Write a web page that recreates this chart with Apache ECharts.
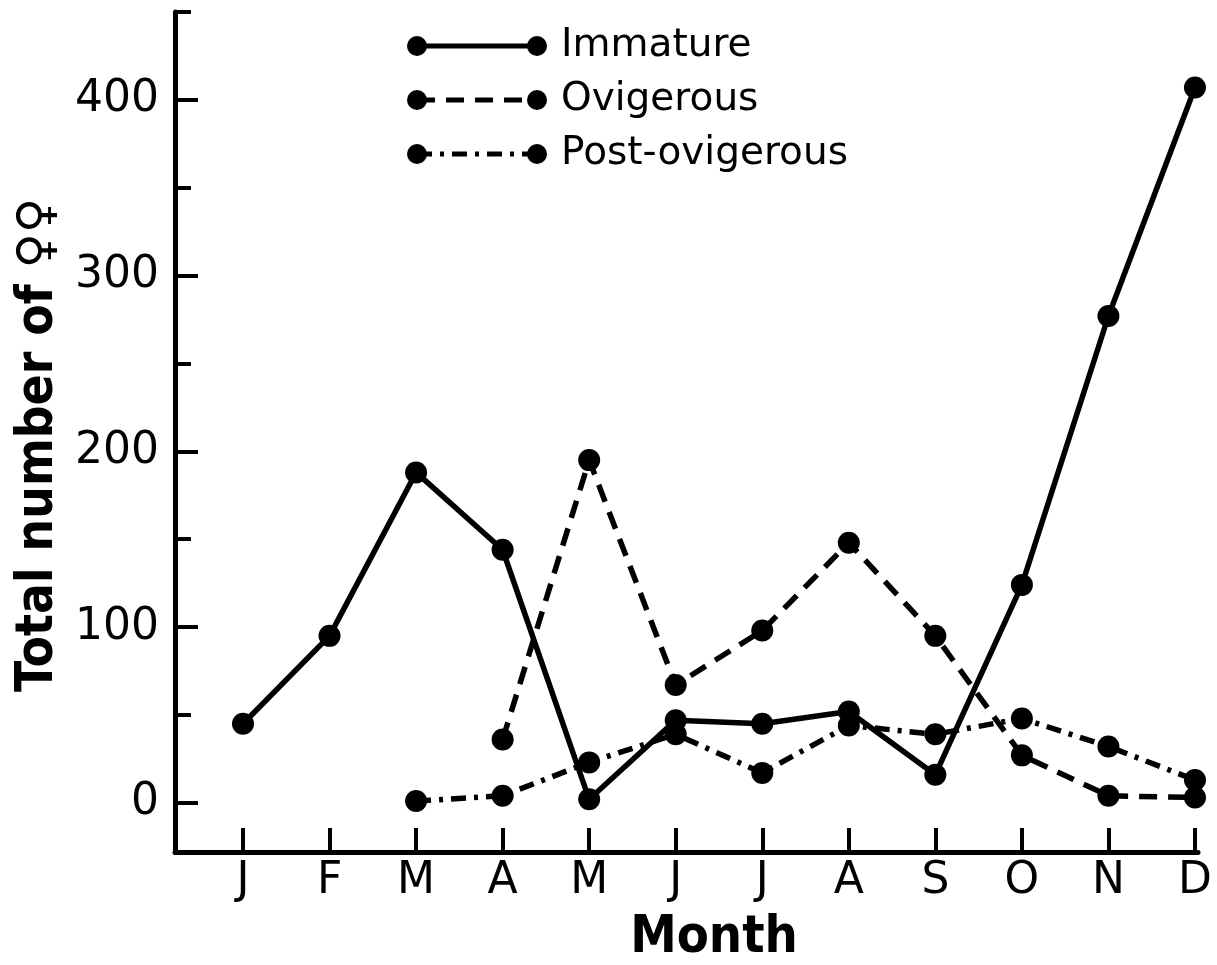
<!DOCTYPE html>
<html>
<head>
<meta charset="utf-8">
<script src="https://cdn.jsdelivr.net/npm/echarts@6/dist/echarts.min.js"></script>
<style>
  html, body { margin: 0; padding: 0; background: #ffffff; }
  #chart { width: 1217px; height: 965px; }
</style>
</head>
<body>
<div id="chart"></div>
<script>
// Monthly counts of females by reproductive stage
const monthLabels = ['J', 'F', 'M', 'A', 'M', 'J', 'J', 'A', 'S', 'O', 'N', 'D'];
const immature = [45, 95, 188, 144, 2, 47, 45, 52, 16, 124, 277, 407];
const ovigerous = [null, null, null, 36, 195, 67, 98, 148, 95, 27, 4, 3];
const postOvigerous = [null, null, 1, 4, 23, 39, 17, 44, 39, 48, 32, 13];
const seriesNames = ['Immature', 'Ovigerous', 'Post-ovigerous'];
const yMajorTicks = [0, 100, 200, 300, 400];
const yMinorTicks = [50, 150, 250, 350, 450];
const monthPositions = monthLabels.map((_, i) => i + 1);

const INK = '#000000';
const labelFont = '"DejaVu Sans", "Liberation Sans", sans-serif';
const titleFont = '"Liberation Sans Narrow", "DejaVu Sans Condensed", "Liberation Sans", sans-serif';
const dashStyles = ['solid', [18, 11], [15, 8, 4, 8]];

function toPoints(values) {
  return values
    .map((v, i) => (v === null ? null : [i + 1, v]))
    .filter(p => p !== null);
}

const seriesValues = [immature, ovigerous, postOvigerous];

const series = seriesValues.map((vals, k) => ({
  name: seriesNames[k],
  type: 'line',
  data: toPoints(vals),
  symbol: 'circle',
  symbolSize: 22,
  showAllSymbol: true,
  itemStyle: { color: INK },
  lineStyle: { color: INK, width: 5.5, type: dashStyles[k] },
  emphasis: { disabled: true },
  animation: false,
  z: 3 - k
}));

// Key in the upper area: a short line with a dot at each end, then the name
const keyRows = [46, 100, 154];
const keyX0 = 417, keyX1 = 537, keyTextX = 561;
const keyGraphics = [];
seriesNames.forEach((name, k) => {
  const y = keyRows[k];
  keyGraphics.push({
    type: 'line',
    shape: { x1: keyX0, y1: y, x2: keyX1, y2: y },
    style: { stroke: INK, lineWidth: 5, lineDash: k === 0 ? null : dashStyles[k] }
  });
  [keyX0, keyX1].forEach(cx => keyGraphics.push({
    type: 'circle',
    shape: { cx: cx, cy: y, r: 10 },
    style: { fill: INK }
  }));
  keyGraphics.push({
    type: 'text',
    x: keyTextX,
    y: y,
    style: {
      text: name,
      fill: INK,
      font: '39px ' + labelFont,
      textVerticalAlign: 'middle',
      textAlign: 'left'
    }
  });
});

const chart = echarts.init(document.getElementById('chart'), null, { renderer: 'canvas' });

const yMin = -28, yMax = 450;

chart.setOption({
  backgroundColor: '#ffffff',
  animation: false,
  grid: { left: 175, right: 19, top: 12, bottom: 113, containLabel: false, outerBoundsMode: 'none' },
  xAxis: {
    type: 'value',
    min: 0.2143,
    max: 12.035,
    splitLine: { show: false },
    axisLine: { show: true, onZero: false, lineStyle: { color: INK, width: 5 } },
    axisTick: {
      show: true, inside: true, length: 24,
      customValues: monthPositions,
      lineStyle: { color: INK, width: 4 }
    },
    axisLabel: {
      show: true,
      customValues: monthPositions,
      formatter: v => monthLabels[Math.round(v) - 1] || '',
      color: INK,
      fontFamily: labelFont,
      fontSize: 44,
      margin: 8
    },
    name: 'Month',
    nameLocation: 'middle',
    nameGap: 60,
    nameTextStyle: {
      color: INK,
      fontFamily: titleFont,
      fontWeight: 'bold',
      fontSize: 52,
      padding: [0, 0, 0, 55]
    }
  },
  yAxis: [
    {
      type: 'value',
      min: yMin,
      max: yMax,
      splitLine: { show: false },
      axisLine: { show: true, onZero: false, lineStyle: { color: INK, width: 5 } },
      axisTick: {
        show: true, inside: true, length: 23,
        customValues: yMajorTicks,
        lineStyle: { color: INK, width: 4 }
      },
      axisLabel: {
        show: true,
        customValues: yMajorTicks,
        color: INK,
        fontFamily: labelFont,
        fontSize: 44,
        margin: 16
      },
      name: 'Total number of {sym|♀♀}',
      nameLocation: 'middle',
      nameRotate: 90,
      nameGap: 106,
      nameTextStyle: {
        color: INK,
        fontFamily: titleFont,
        fontWeight: 'bold',
        fontSize: 51,
        padding: [0, 26, 0, 0],
        rich: {
          sym: {
            color: INK,
            fontFamily: labelFont,
            fontWeight: 'normal',
            fontSize: 48
          }
        }
      }
    },
    {
      type: 'value',
      min: yMin,
      max: yMax,
      position: 'left',
      splitLine: { show: false },
      axisLine: { show: false, onZero: false },
      axisLabel: { show: false },
      axisTick: {
        show: true, inside: true, length: 16,
        customValues: yMinorTicks,
        lineStyle: { color: INK, width: 4 }
      }
    }
  ],
  series: series,
  graphic: keyGraphics
});
</script>
</body>
</html>
